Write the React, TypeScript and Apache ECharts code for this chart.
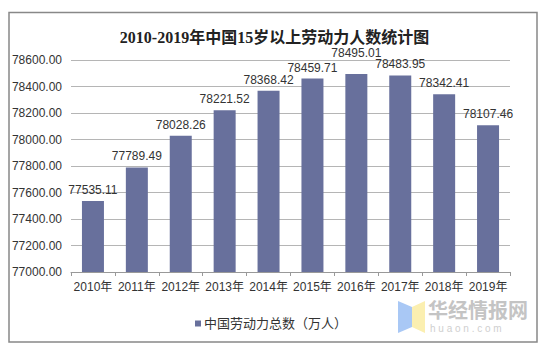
import React, { useEffect, useRef } from "react";
import * as echarts from "echarts";

const categories = ["2010年", "2011年", "2012年", "2013年", "2014年", "2015年", "2016年", "2017年", "2018年", "2019年"];
const values = [77535.11, 77789.49, 78028.26, 78221.52, 78368.42, 78459.71, 78495.01, 78483.95, 78342.41, 78107.46];
const seriesName = "中国劳动力总数（万人）";
const titleText = "2010-2019年中国15岁以上劳动力人数统计图";
const yMin = 77000;
const yMax = 78600;
const yStep = 200;

export default function App() {
  const ref = useRef<HTMLDivElement>(null);
  useEffect(() => {
    if (!ref.current) return;
    const chart = echarts.init(ref.current, undefined, { renderer: "svg" });
    const font = "'Liberation Sans', Arial, 'Noto Sans CJK SC', sans-serif";
    const barData = values.map((v, i) =>
      i === 6 ? { value: v, label: { distance: 15 } } : { value: v }
    );
    chart.setOption({
      animation: false,
      backgroundColor: "#ffffff",
      title: {
        text: titleText,
        left: "center",
        top: 24,
        textStyle: {
          fontSize: 16,
          fontWeight: "bold",
          color: "#222",
          fontFamily: "'Liberation Serif', 'Noto Sans CJK SC', serif",
        },
      },
      grid: { left: 71, right: 39, top: 60, bottom: 81, containLabel: false },
      legend: {
        data: [seriesName],
        left: 190,
        top: 312,
        itemWidth: 6,
        itemHeight: 6,
        icon: "rect",
        itemGap: 4,
        textStyle: { fontSize: 13, color: "#333", fontFamily: font, padding: [0, 0, 0, -2] },
      },
      xAxis: {
        type: "category",
        data: categories,
        axisLine: { show: true, lineStyle: { color: "#999", width: 1 } },
        axisTick: { show: true, length: 4, lineStyle: { color: "#999" } },
        axisLabel: { fontSize: 12, color: "#333", margin: 9, fontFamily: font, interval: 0 },
      },
      yAxis: {
        type: "value",
        min: yMin,
        max: yMax,
        interval: yStep,
        axisLine: { show: false },
        axisTick: { show: false },
        axisLabel: {
          fontSize: 12,
          color: "#333",
          margin: 9,
          fontFamily: font,
          formatter: (v: number) => v.toFixed(2),
        },
        splitLine: { lineStyle: { color: "#b5b5b5", width: 1 } },
      },
      series: [
        {
          name: seriesName,
          type: "bar",
          data: barData,
          barWidth: 22,
          itemStyle: { color: "#68709c" },
          label: {
            show: true,
            position: "top",
            distance: 5,
            fontSize: 12,
            color: "#333",
            fontFamily: font,
            formatter: (p: any) => Number(p.value).toFixed(2),
          },
        },
      ],
      graphic: [
        {
          type: "rect",
          shape: { x: 9, y: 12.5, width: 528, height: 329.5 },
          style: { fill: "none", stroke: "#888", lineWidth: 1.5 },
          silent: true,
        },
        {
          type: "polygon",
          shape: { points: [[398, 301], [412, 307], [412, 327], [398, 333]] },
          style: { fill: "#a9c8f5" },
          silent: true,
        },
        {
          type: "polygon",
          shape: { points: [[412, 307], [425, 301], [425, 333], [412, 327]] },
          style: { fill: "#fbefb0" },
          silent: true,
        },
        {
          type: "text",
          x: 428,
          y: 299,
          style: {
            text: "华经情报网",
            fontSize: 20,
            fontWeight: "bold",
            fill: "#c4c4c4",
            fontFamily: "'Noto Sans CJK SC', sans-serif",
          },
          silent: true,
        },
        {
          type: "text",
          x: 430,
          y: 323,
          style: {
            text: "h u a o n . c o m",
            fontSize: 10,
            fill: "#cfcfcf",
            fontFamily: font,
          },
          silent: true,
        },
      ],
    });
    return () => chart.dispose();
  }, []);
  return (
    <div
      ref={ref}
      style={{ position: "fixed", left: 0, top: 0, width: 549, height: 353 }}
    />
  );
}
